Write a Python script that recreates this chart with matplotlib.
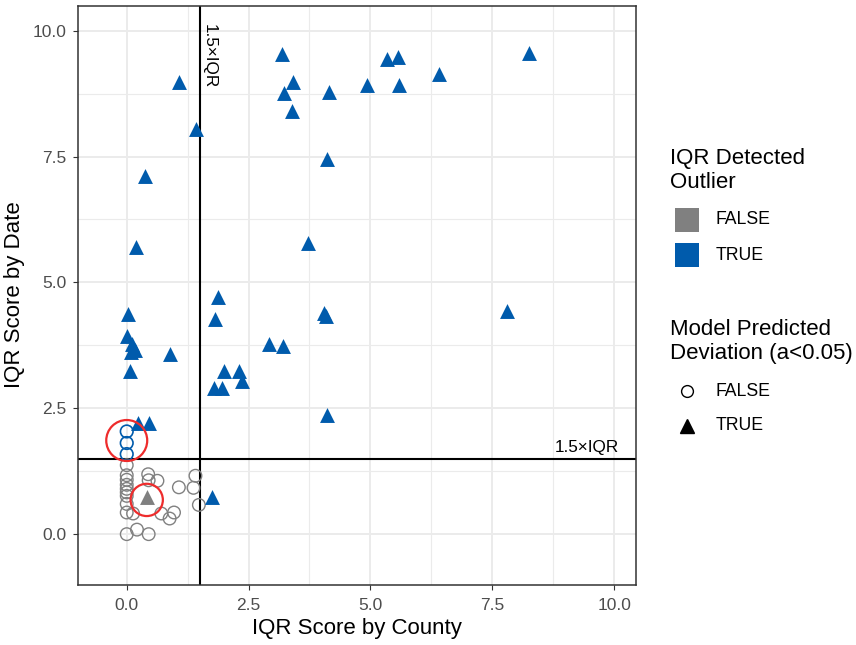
import numpy as np
import matplotlib.pyplot as plt

plt.rcParams['font.family'] = ['Liberation Sans', 'DejaVu Sans']

# IQR scores
# blue triangles: IQR outlier TRUE, model deviation TRUE
bt_county = [1.07, 1.42, 3.18, 3.41, 3.22, 3.39, 4.15, 4.93, 5.34, 5.56, 5.59, 6.41, 8.25,
             4.11, 0.37, 0.18, 3.72, 1.87, 1.81, 0.02, 4.05, 4.09, 7.80,
             0.00, 0.10, 0.16, 0.08, 0.88, 0.06, 2.92, 3.20, 1.99, 2.30, 2.36, 1.79, 1.95,
             4.11, 0.23, 0.45, 1.75]
bt_date = [8.98, 8.05, 9.54, 8.99, 8.77, 8.41, 8.79, 8.93, 9.44, 9.48, 8.93, 9.13, 9.56,
           7.46, 7.12, 5.71, 5.79, 4.72, 4.27, 4.37, 4.40, 4.33, 4.44,
           3.93, 3.77, 3.65, 3.61, 3.57, 3.25, 3.77, 3.73, 3.25, 3.25, 3.04, 2.90, 2.90,
           2.36, 2.20, 2.20, 0.73]
# blue circles: IQR outlier TRUE, model deviation FALSE
bc_county = [0.00, 0.00, 0.00]
bc_date = [2.04, 1.81, 1.59]
# grey triangle: IQR outlier FALSE, model deviation TRUE
gt_county = [0.41]
gt_date = [0.73]
# grey circles: IQR outlier FALSE, model deviation FALSE
gc_county = [0.00, 0.00, 0.00, 0.00, 0.00, 0.00, 0.00, 0.00, 0.00, 0.00,
             0.44, 0.45, 0.63, 1.07, 1.41, 1.37, 1.48, 0.13, 0.71, 0.97, 0.88, 0.21, 0.45]
gc_date = [1.37, 1.17, 1.08, 0.98, 0.90, 0.83, 0.76, 0.60, 0.43, 0.00,
           1.19, 1.07, 1.06, 0.93, 1.16, 0.92, 0.58, 0.41, 0.41, 0.43, 0.31, 0.09, 0.00]

# points circled in red in the original
hl_county = [0.00, 0.41]
hl_date = [1.86, 0.68]
hl_size = [870, 540]

threshold = 1.5
grey = '#808080'
blue = '#005BAC'

fig = plt.figure(figsize=(8.56, 6.45), dpi=100)
ax = fig.add_axes([78/856, 60.5/645, 558/856, 579/645])

ticks = [0, 2.5, 5, 7.5, 10]
minor = [1.25, 3.75, 6.25, 8.75]
ax.set_xticks(ticks)
ax.set_yticks(ticks)
ax.set_xticks(minor, minor=True)
ax.set_yticks(minor, minor=True)
ax.set_xticklabels(['0.0', '2.5', '5.0', '7.5', '10.0'])
ax.set_yticklabels(['0.0', '2.5', '5.0', '7.5', '10.0'])
ax.set_xlim(-1.0, 10.45)
ax.set_ylim(-1.0, 10.5)
ax.grid(which='major', color='#EBEBEB', lw=1.4, zorder=0)
ax.grid(which='minor', color='#EBEBEB', lw=0.8, zorder=0)
ax.set_axisbelow(True)
ax.tick_params(which='major', length=3.5, width=0.8, color='#333333',
               labelsize=12.5, labelcolor='#4D4D4D')
ax.tick_params(axis='x', which='major', pad=6)
ax.tick_params(axis='y', which='major', pad=5)
ax.tick_params(which='minor', length=0)
for s in ax.spines.values():
    s.set_linewidth(1.1)
    s.set_color('#333333')

ax.axvline(threshold, color='black', lw=1.5, zorder=1)
ax.axhline(threshold, color='black', lw=1.5, zorder=1)
ax.text(threshold + 0.03, 9.5, '1.5×IQR', rotation=-90, ha='left', va='center',
        fontsize=12.3, color='black')
ax.text(9.45, threshold + 0.07, '1.5×IQR', ha='center', va='bottom',
        fontsize=12.3, color='black')

ax.scatter(gc_county, gc_date, s=82, marker='o', facecolors='none',
           edgecolors=grey, linewidths=1.0, zorder=3)
ax.scatter(gt_county, gt_date, s=115, marker='^', color=grey, linewidths=0, zorder=3)
ax.scatter(bc_county, bc_date, s=82, marker='o', facecolors='none',
           edgecolors=blue, linewidths=1.2, zorder=3)
ax.scatter(bt_county, bt_date, s=115, marker='^', color=blue, linewidths=0, zorder=3)

ax.scatter(hl_county, hl_date, s=hl_size, marker='o', facecolors='none',
           edgecolors='#EE2C2C', linewidths=1.6, zorder=4)

ax.set_xlabel('IQR Score by County', fontsize=16, labelpad=4)
ax.set_ylabel('IQR Score by Date', fontsize=16, labelpad=5)

# legends drawn on an overlay in pixel coordinates
lax = fig.add_axes([0, 0, 1, 1], facecolor='none')
lax.set_xlim(0, 856)
lax.set_ylim(645, 0)
lax.axis('off')

lax.text(670, 164, 'IQR Detected', fontsize=16, va='baseline')
lax.text(670, 188, 'Outlier', fontsize=16, va='baseline')
for yy, col, lab in [(220, grey, 'FALSE'), (255, blue, 'TRUE')]:
    lax.add_patch(plt.Rectangle((675, yy - 12), 24, 24, color=col, lw=0))
    lax.text(716, yy, lab, fontsize=12.7, va='center')

lax.text(670, 335, 'Model Predicted', fontsize=16, va='baseline')
lax.text(670, 359, 'Deviation (a<0.05)', fontsize=16, va='baseline')
lax.plot([687], [391], marker='o', ms=8.5, mfc='none', mec='black', mew=1.0, ls='none')
lax.plot([687], [426], marker='^', ms=10.5, color='black', ls='none')
lax.text(716, 391, 'FALSE', fontsize=12.7, va='center')
lax.text(716, 426, 'TRUE', fontsize=12.7, va='center')

fig.savefig('out.png', dpi=100)
